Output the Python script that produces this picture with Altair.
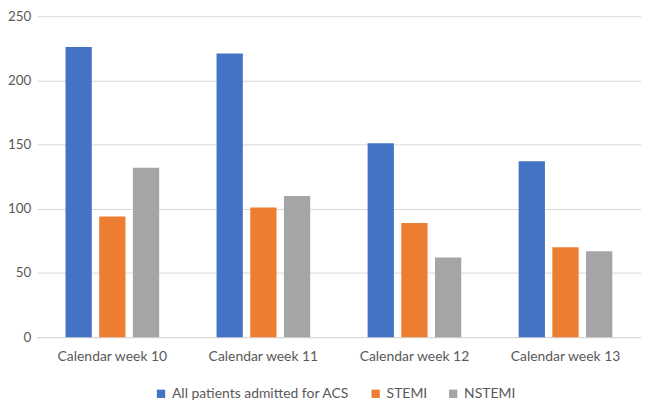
import altair as alt
import pandas as pd

weeks = ["Calendar week 10", "Calendar week 11", "Calendar week 12", "Calendar week 13"]
series = ["All patients admitted for ACS", "STEMI", "NSTEMI"]
acs = [226, 221, 151, 137]
stemi = [94, 101, 89, 70]
nstemi = [132, 110, 62, 67]
colors = ["#4472C4", "#ED7D31", "#A5A5A5"]

rows = []
for name, vals in zip(series, [acs, stemi, nstemi]):
    for w, v in zip(weeks, vals):
        rows.append({"week": w, "series": name, "value": v})
df = pd.DataFrame(rows)

font = "Lato"
chart = alt.Chart(df).mark_bar().encode(
    x=alt.X("week:N", sort=weeks, title=None,
            scale=alt.Scale(paddingInner=0.38, paddingOuter=0.19),
            axis=alt.Axis(labelAngle=0, ticks=False, domain=True, domainColor="#D9D9D9",
                          labelPadding=12, labelFontSize=14, labelColor="#595959",
                          labelFont=font)),
    xOffset=alt.XOffset("series:N", sort=series,
                        scale=alt.Scale(paddingInner=0.22, paddingOuter=0)),
    y=alt.Y("value:Q", title=None,
            scale=alt.Scale(domain=[0, 250], range=[327, 4], nice=False),
            axis=alt.Axis(values=[0, 50, 100, 150, 200, 250], ticks=False, domain=False,
                          gridColor="#D9D9D9", labelPadding=6, labelFontSize=13.5,
                          labelColor="#595959", labelFont=font)),
    color=alt.Color("series:N", sort=series,
                    scale=alt.Scale(domain=series, range=colors),
                    legend=alt.Legend(title=None, orient="none", direction="horizontal",
                                      legendX=118, legendY=377, symbolType="square",
                                      symbolSize=70, symbolStrokeWidth=0, labelFontSize=14,
                                      labelColor="#595959", labelFont=font, labelLimit=400,
                                      columnPadding=19, labelOffset=4)),
).properties(
    width=608, height=327,
    autosize=alt.AutoSizeParams(type="none"),
    padding={"left": 29, "top": 3, "right": 0, "bottom": 62},
).configure_view(stroke=None)

chart.save("out.html", embed_options={"renderer": "svg", "actions": False})
